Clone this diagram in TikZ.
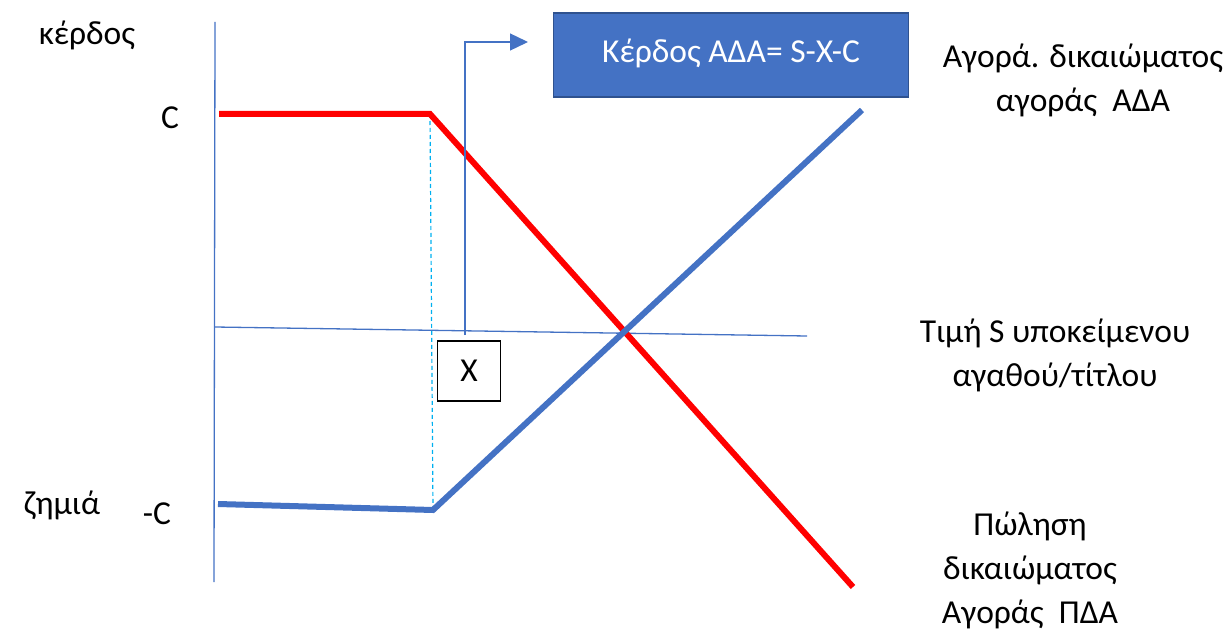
\documentclass[tikz,border=0pt]{standalone}
\usepackage{fontspec}
\setmainfont{Carlito}
\usetikzlibrary{arrows.meta}
\definecolor{pblue}{HTML}{4472C4}
\definecolor{pdark}{HTML}{2F528F}
\definecolor{pcyan}{HTML}{00B0F0}
\tikzset{
  lbl/.style={font=\fontsize{33.5}{44}\selectfont, align=center, inner sep=0pt},
  axis/.style={draw=pblue, line width=1.3pt},
  thick red/.style={draw=red, line width=6pt},
  thick blue/.style={draw=pblue, line width=6pt},
  guide/.style={draw=pcyan, line width=1.2pt, dash pattern=on 4pt off 3pt},
  xbox/.style={draw=black, line width=1.3pt, minimum width=63pt, minimum height=60pt, font=\fontsize{33.5}{36}\selectfont},
  formula/.style={draw=pdark, line width=1.5pt, fill=pblue, text=white, minimum width=355pt, minimum height=84pt, font=\fontsize{33.5}{36}\selectfont},
}
\begin{document}
\begin{tikzpicture}[x=1pt,y=-1pt]
\useasboundingbox (0,0) rectangle (1230,631);
% axes
\coordinate (ytop) at (215,22);
\coordinate (ybot) at (214,582);
\coordinate (xl) at (215,327);
\coordinate (xr) at (807,336);
\draw[axis] (ytop) -- (ybot);
\draw[axis] (xl) -- (xr);
% red line
\coordinate (r1) at (219,114);
\coordinate (r2) at (430,114);
\coordinate (r3) at (853,587);
% blue line
\coordinate (b1) at (218,504);
\coordinate (b2) at (433,510);
\coordinate (b3) at (862,110);
\draw[guide] (r2) -- (b2);
\draw[thick red] (r1) -- (r2) -- (r3);
\draw[thick blue] (b1) -- (b2) -- (b3);
% X box
\node[xbox] (X) at (469,371) {X};
% formula box
\node[formula] (F) at (731,55) {\raisebox{8pt}{Κέρδος ΑΔΑ= S-X-C}};
\coordinate (xup) at (465,335);
\coordinate (corner) at (465,42);
\coordinate (tip) at (528,42);
\draw[pblue, line width=1.3pt, -{Triangle[length=18pt,width=17pt]}] (xup) -- (corner) -- (tip);
% labels
\node[lbl] (kerdos) at (87,35) {κέρδος};
\node[lbl] (C) at (170,118) {C};
\node[lbl] (zimia) at (62,505) {ζημιά};
\node[lbl] (mC) at (157,514) {-C};
\node[lbl] (ada) at (1083,80) {Αγορά. δικαιώματος\\αγοράς~~ΑΔΑ};
\node[lbl] (price) at (1055,355) {Τιμή S υποκείμενου\\αγαθού/τίτλου};
\node[lbl] (pda) at (1030,570) {Πώληση\\δικαιώματος\\Αγοράς~~ΠΔΑ};
\end{tikzpicture}
\end{document}
